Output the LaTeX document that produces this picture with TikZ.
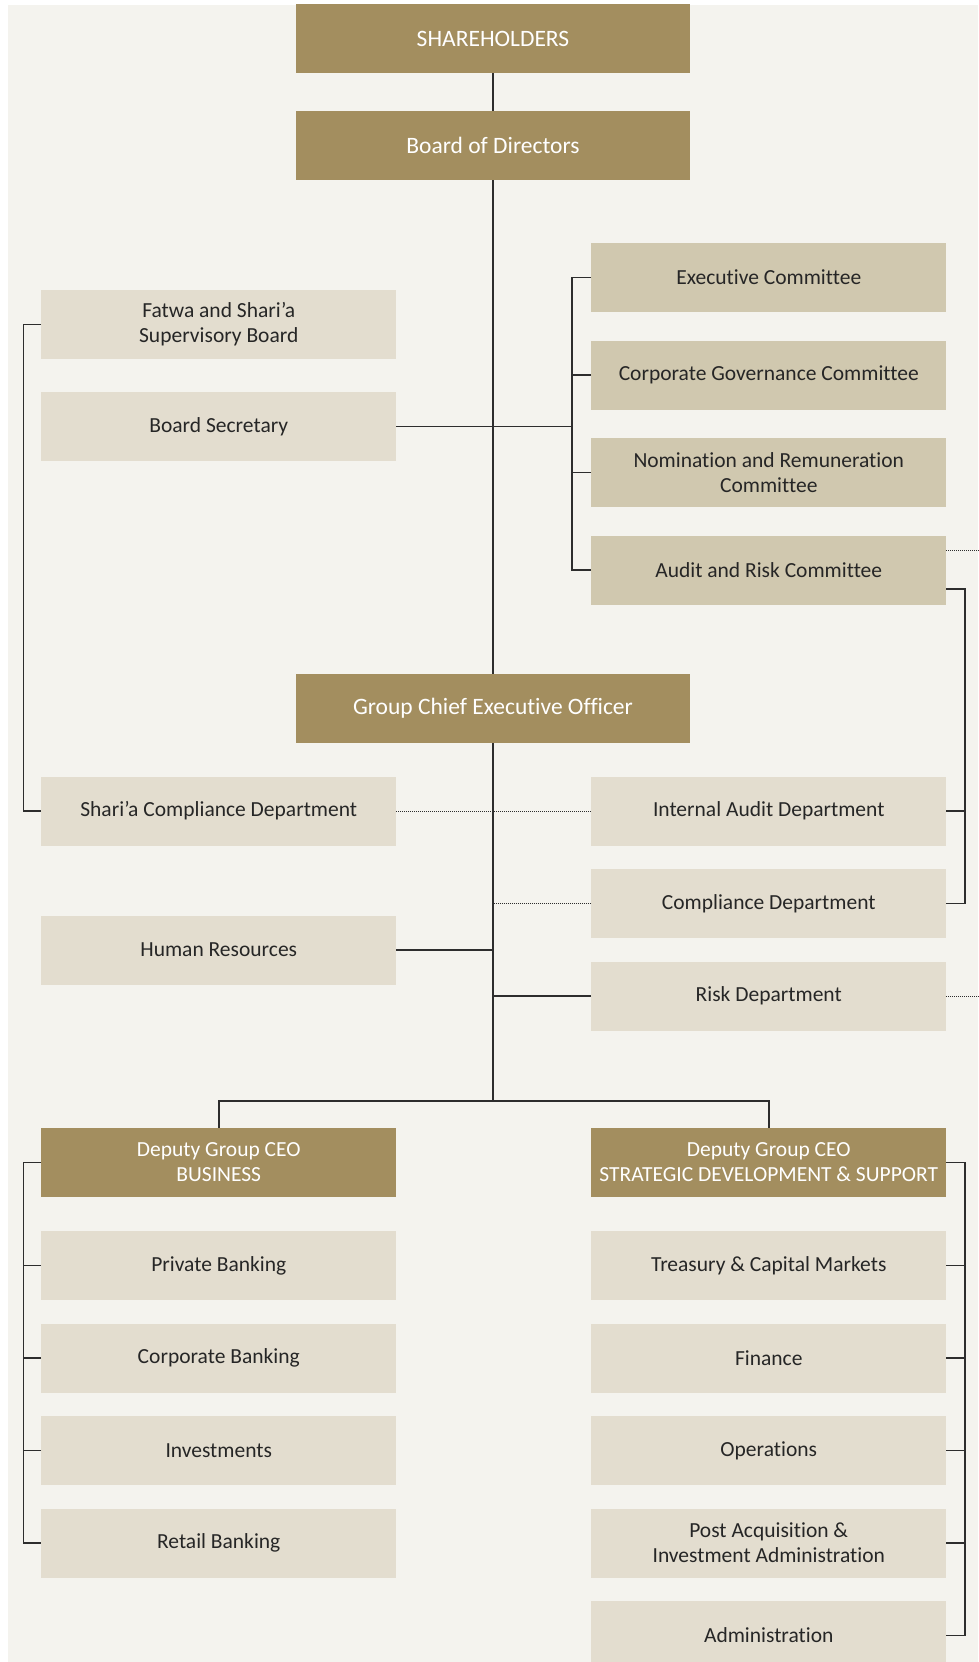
\documentclass[tikz,border=0pt]{standalone}
\usepackage{fontspec}
\setmainfont{Carlito}[Ligatures=NoCommon]
\definecolor{orggold}{RGB}{163,142,95}
\definecolor{orgdark}{RGB}{208,200,175}
\definecolor{orglight}{RGB}{227,221,207}
\definecolor{orgback}{RGB}{244,243,238}
\definecolor{orgline}{RGB}{45,45,45}

\begin{document}
\begin{tikzpicture}[x=1pt, y=-1pt,
  gbox/.style={rectangle, fill=orggold, inner sep=0pt,
               minimum width=394pt, minimum height=69pt,
               font=\fontsize{23.5}{25}\selectfont, align=center, text=white},
  dbox/.style={gbox, minimum width=355pt, font=\fontsize{21.5}{25}\selectfont},
  cbox/.style={rectangle, fill=orgdark, inner sep=0pt,
               minimum width=355pt, minimum height=69pt,
               font=\fontsize{21.5}{25}\selectfont, align=center, text=black!85},
  lbox/.style={cbox, fill=orglight},
  lnk/.style={draw=orgline, line width=1.5pt},
  dlnk/.style={draw=orgline, line width=1pt, dash pattern=on 1pt off 1pt}
]
\useasboundingbox (0,0) rectangle (978,1662);
\fill[orgback] (8,5) rectangle (978,1662);

% Top of the chart
\node[gbox] (shr)  at (493,38.5)  {SHAREHOLDERS};
\node[gbox] (bod)  at (493,145.5) {Board of Directors};
\node[gbox] (gceo) at (493,708.5) {Group Chief Executive Officer};

% Board committees
\node[cbox] (exco)  at (768.75,277.5) {Executive Committee};
\node[cbox] (cgov)  at (768.75,375)   {Corporate Governance Committee};
\node[cbox] (nrem)  at (768.75,472.5) {Nomination and Remuneration\\Committee};
\node[cbox] (audit) at (768.75,570)   {Audit and Risk Committee};

% Left side
\node[lbox] (fatwa)  at (218.75,324.5) {Fatwa and Shari’a\\Supervisory Board};
\node[lbox] (bsec)   at (218.75,426.5) {Board Secretary};
\node[lbox] (shcomp) at (218.75,811)   {Shari’a Compliance Department};
\node[lbox] (hr)     at (218.75,950)   {Human Resources};

% Control functions
\node[lbox] (iaud) at (768.75,811)   {Internal Audit Department};
\node[lbox] (comp) at (768.75,903.5) {Compliance Department};
\node[lbox] (risk) at (768.75,996)   {Risk Department};

% Deputies
\node[dbox] (dbus) at (218.75,1162.5) {Deputy Group CEO\\BUSINESS};
\node[dbox] (dstr) at (768.75,1162.5) {Deputy Group CEO\\STRATEGIC DEVELOPMENT \& SUPPORT};

\node[lbox] (pbank)  at (218.75,1265.5) {Private Banking};
\node[lbox] (cbank)  at (218.75,1358)   {Corporate Banking};
\node[lbox] (inv)    at (218.75,1450.5) {Investments};
\node[lbox] (rbank)  at (218.75,1543)   {Retail Banking};

\node[lbox] (treas)  at (768.75,1265.5) {Treasury \& Capital Markets};
\node[lbox] (fin)    at (768.75,1358)   {Finance};
\node[lbox] (ops)    at (768.75,1450.5) {Operations};
\node[lbox] (pacq)   at (768.75,1543)   {Post Acquisition \&\\Investment Administration};
\node[lbox] (admin)  at (768.75,1635.5) {Administration};

\coordinate (split) at (493,1101);

% Trunk
\draw[lnk] (shr) -- (bod);
\draw[lnk] (bod) -- (gceo);
\draw[lnk] (gceo) -- (split);
\draw[lnk] (dbus.north) |- (split) -| (dstr.north);

% Committees
\draw[lnk] (bsec.east) -- ++(175.5,0);
\draw[lnk] (exco.west) -- ++(-19,0) |- (audit.west);
\draw[lnk] (cgov.west) -- ++(-19,0);
\draw[lnk] (nrem.west) -- ++(-19,0);

% Shari'a line
\draw[lnk] (fatwa.west) -- ++(-17.5,0) |- (shcomp.west);
\draw[dlnk] (shcomp.east) -- (iaud.west);

% Audit reporting
\draw[lnk] ([yshift=-19pt]audit.east) -- ++(18.5,0) |- (comp.east);
\draw[lnk] (iaud.east) -- ++(18.5,0);
\draw[dlnk] ([yshift=20pt]audit.east) -- ++(40,0);
\draw[dlnk] (risk.east) -- ++(40,0);
\draw[dlnk] (comp.west) -- (comp.west -| gceo);
\draw[lnk] (hr.east) -- (hr.east -| gceo);
\draw[lnk] (risk.west) -- (risk.west -| gceo);

% Business side
\draw[lnk] (dbus.west) -- ++(-17.5,0) |- (rbank.west);
\draw[lnk] (pbank.west) -- ++(-17.5,0);
\draw[lnk] (cbank.west) -- ++(-17.5,0);
\draw[lnk] (inv.west) -- ++(-17.5,0);

% Support side
\draw[lnk] (dstr.east) -- ++(18.5,0) |- (admin.east);
\draw[lnk] (treas.east) -- ++(18.5,0);
\draw[lnk] (fin.east) -- ++(18.5,0);
\draw[lnk] (ops.east) -- ++(18.5,0);
\draw[lnk] (pacq.east) -- ++(18.5,0);
\end{tikzpicture}
\end{document}
